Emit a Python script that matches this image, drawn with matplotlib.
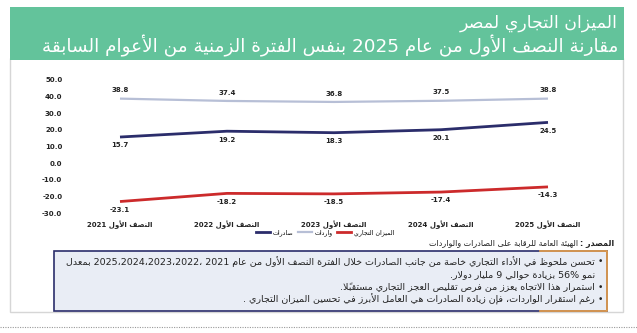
import re
import matplotlib
matplotlib.use("Agg")
import matplotlib.pyplot as plt
from matplotlib.patches import Rectangle
from matplotlib.lines import Line2D

# ---- data ----
years = ["2021", "2022", "2023", "2024", "2025"]
half_label = "النصف الأول"
exports = [15.7, 19.2, 18.3, 20.1, 24.5]
imports = [38.8, 37.4, 36.8, 37.5, 38.8]
balance = [-23.1, -18.2, -18.5, -17.4, -14.3]
series_names = ["صادرات", "واردات", "الميزان التجاري"]
yticks = [50, 40, 30, 20, 10, 0, -10, -20, -30]

title1 = "الميزان التجاري لمصر"
title2 = "مقارنة النصف الأول من عام 2025 بنفس الفترة الزمنية من الأعوام السابقة"
source_lbl = "المصدر :"
source_txt = "الهيئة العامة للرقابة على الصادرات والواردات"
notes = [
    ("•", "تحسن ملحوظ في الأداء التجاري خاصة من جانب الصادرات خلال الفترة النصف الأول من عام 2021 ،2022،2023،2024،2025 بمعدل"),
    ("", "نمو 56% بزيادة حوالي 9 مليار دولار."),
    ("•", "استمرار هذا الاتجاه يعزز من فرص تقليص العجز التجاري مستقبلاً."),
    ("•", "رغم استقرار الواردات، فإن زيادة الصادرات هي العامل الأبرز في تحسين الميزان التجاري ."),
]

# ---- minimal arabic shaping (matplotlib has no complex text layout) ----
FORMS = {
    'ء': (0xFE80,), 'آ': (0xFE81, 0xFE82), 'أ': (0xFE83, 0xFE84), 'ؤ': (0xFE85, 0xFE86),
    'إ': (0xFE87, 0xFE88), 'ئ': (0xFE89, 0xFE8A, 0xFE8B, 0xFE8C), 'ا': (0xFE8D, 0xFE8E),
    'ب': (0xFE8F, 0xFE90, 0xFE91, 0xFE92), 'ة': (0xFE93, 0xFE94),
    'ت': (0xFE95, 0xFE96, 0xFE97, 0xFE98), 'ث': (0xFE99, 0xFE9A, 0xFE9B, 0xFE9C),
    'ج': (0xFE9D, 0xFE9E, 0xFE9F, 0xFEA0), 'ح': (0xFEA1, 0xFEA2, 0xFEA3, 0xFEA4),
    'خ': (0xFEA5, 0xFEA6, 0xFEA7, 0xFEA8), 'د': (0xFEA9, 0xFEAA), 'ذ': (0xFEAB, 0xFEAC),
    'ر': (0xFEAD, 0xFEAE), 'ز': (0xFEAF, 0xFEB0), 'س': (0xFEB1, 0xFEB2, 0xFEB3, 0xFEB4),
    'ش': (0xFEB5, 0xFEB6, 0xFEB7, 0xFEB8), 'ص': (0xFEB9, 0xFEBA, 0xFEBB, 0xFEBC),
    'ض': (0xFEBD, 0xFEBE, 0xFEBF, 0xFEC0), 'ط': (0xFEC1, 0xFEC2, 0xFEC3, 0xFEC4),
    'ظ': (0xFEC5, 0xFEC6, 0xFEC7, 0xFEC8), 'ع': (0xFEC9, 0xFECA, 0xFECB, 0xFECC),
    'غ': (0xFECD, 0xFECE, 0xFECF, 0xFED0), 'ف': (0xFED1, 0xFED2, 0xFED3, 0xFED4),
    'ق': (0xFED5, 0xFED6, 0xFED7, 0xFED8), 'ك': (0xFED9, 0xFEDA, 0xFEDB, 0xFEDC),
    'ل': (0xFEDD, 0xFEDE, 0xFEDF, 0xFEE0), 'م': (0xFEE1, 0xFEE2, 0xFEE3, 0xFEE4),
    'ن': (0xFEE5, 0xFEE6, 0xFEE7, 0xFEE8), 'ه': (0xFEE9, 0xFEEA, 0xFEEB, 0xFEEC),
    'و': (0xFEED, 0xFEEE), 'ى': (0xFEEF, 0xFEF0), 'ي': (0xFEF1, 0xFEF2, 0xFEF3, 0xFEF4),
}
LAM_ALEF = {'ا': (0xFEFB, 0xFEFC), 'أ': (0xFEF7, 0xFEF8), 'إ': (0xFEF9, 0xFEFA), 'آ': (0xFEF5, 0xFEF6)}
MARKS = set(chr(c) for c in range(0x064B, 0x0653))


def dual(ch):
    return ch in FORMS and len(FORMS[ch]) == 4


def shape(word):
    chars = list(word)
    units = []
    i = 0
    while i < len(chars):
        c = chars[i]
        marks = ''
        j = i + 1
        while j < len(chars) and chars[j] in MARKS:
            marks += chars[j]
            j += 1
        if c == 'ل' and j < len(chars) and chars[j] in LAM_ALEF:
            units.append(('LA' + chars[j], marks))
            j += 1
            while j < len(chars) and chars[j] in MARKS:
                units[-1] = (units[-1][0], units[-1][1] + chars[j])
                j += 1
        else:
            units.append((c, marks))
        i = j
    out = []
    for k, (c, marks) in enumerate(units):
        prev = units[k - 1][0] if k > 0 else None
        nxt = units[k + 1][0] if k + 1 < len(units) else None
        join_prev = prev is not None and dual(prev)
        if c.startswith('LA'):
            f = LAM_ALEF[c[2]]
            out.append(chr(f[1] if join_prev else f[0]) + marks)
            continue
        if c not in FORMS:
            out.append(c + marks)
            continue
        f = FORMS[c]
        join_next = nxt is not None and (nxt in FORMS or nxt.startswith('LA')) and len(f) == 4
        if len(f) == 1:
            g = f[0]
        elif join_prev and join_next:
            g = f[3]
        elif join_prev:
            g = f[1]
        elif join_next:
            g = f[2]
        else:
            g = f[0]
        out.append(chr(g) + marks)
    return out


def ar(text):
    # shape, then lay out right-to-left keeping number runs left-to-right
    parts = re.split(r'([0-9]+(?:[.,][0-9]+)*%?)', text)
    visual = []
    for p in parts:
        if not p:
            continue
        if re.fullmatch(r'[0-9]+(?:[.,][0-9]+)*%?', p):
            visual.append(p)
        else:
            visual.append(''.join(reversed(shape(p))))
    return ''.join(reversed(visual))


# ---- colors ----
green = "#63c39b"
navy = "#2b2d6b"
light = "#b7bfd6"
red = "#cc2a2b"
ink = "#222222"

W, H = 637, 333
fig = plt.figure(figsize=(W / 100, H / 100), dpi=100)
renderer = fig.canvas.get_renderer()
bg = fig.add_axes([0, 0, 1, 1])
bg.set_xlim(0, W)
bg.set_ylim(H, 0)
bg.axis("off")


def fit(t, width):
    # scale the font so the text spans the given pixel width
    w = t.get_window_extent(renderer).width
    t.set_fontsize(t.get_fontsize() * width / w)
    return t


# panel + header
bg.add_patch(Rectangle((10, 58), 613, 254, facecolor="white", edgecolor="#d6d6d6", lw=1.0))
bg.add_patch(Rectangle((10, 7), 614, 53, facecolor=green, edgecolor="none"))
fit(bg.text(618, 23, ar(title1), color="white", fontsize=12, ha="right", va="center"), 158)
fit(bg.text(618, 46, ar(title2), color="white", fontsize=12, ha="right", va="center"), 573)

# chart
ax = fig.add_axes([66.5 / W, 1 - 213 / H, 535 / W, 133 / H])
x = list(range(len(years)))
ax.plot(x, imports, color=light, lw=1.6, solid_capstyle="butt")
ax.plot(x, exports, color=navy, lw=2.0, solid_capstyle="butt")
ax.plot(x, balance, color=red, lw=2.0, solid_capstyle="butt")
for vals, off in [(imports, 6), (exports, -6), (balance, -6)]:
    for xi, v in zip(x, vals):
        ax.annotate(f"{v:.1f}", (xi, v), xytext=(0, off), textcoords="offset points",
                    ha="center", va="center", fontsize=5, fontweight="bold", color=ink)
ax.set_xlim(-0.5, 4.5)
ax.set_ylim(-30, 50)
ax.set_yticks(yticks)
ax.set_yticklabels([f"{t:.1f}" for t in yticks], fontsize=5, fontweight="bold", color=ink)
ax.set_xticks(x)
ax.set_xticklabels([ar(half_label + " " + y) for y in years], fontsize=5, fontweight="bold",
                   color=ink)
ax.tick_params(length=0, pad=3)
ax.tick_params(axis="x", pad=5)
for s in ax.spines.values():
    s.set_visible(False)
ax.patch.set_alpha(0)

handles = [Line2D([], [], color=navy, lw=2), Line2D([], [], color=light, lw=1.6),
           Line2D([], [], color=red, lw=2)]
fig.legend(handles, [ar(n) for n in series_names], loc="center", ncol=3,
           bbox_to_anchor=(325 / W, 1 - 233 / H), frameon=False, fontsize=4.5,
           handlelength=2.2, handletextpad=0.4, columnspacing=0.8)

# source: bold label on the right, the body to its left
src_body = fit(bg.text(0, 243, ar(source_txt), fontsize=5.5, ha="right", va="center",
                       color=ink), 150)
src_lbl = bg.text(614, 243, ar(source_lbl), fontsize=src_body.get_fontsize(),
                  fontweight="bold", ha="right", va="center", color=ink)
lbl_w = src_lbl.get_window_extent(renderer).width
src_body.set_x(614 - lbl_w - 2)

# notes box
bg.add_patch(Rectangle((54, 251), 553, 60, facecolor="#e9edf5", edgecolor=navy, lw=1.2))
bg.plot([540, 607, 607, 540], [251, 251, 311, 311], color="#eba24a", lw=1.2)
ys = [262, 274.5, 287, 299.5]
note_texts = []
for (b, t), yy in zip(notes, ys):
    if b:
        bg.text(600, yy, b, fontsize=6.5, ha="center", va="center", color=ink)
    note_texts.append(bg.text(595, yy, ar(t), fontsize=7, ha="right", va="center", color=ink))
fit(note_texts[0], 528)
for t in note_texts[1:]:
    t.set_fontsize(note_texts[0].get_fontsize())

# dotted separator
bg.plot([0, W], [327, 327], color="#999999", lw=0.8, linestyle=(0, (1, 1.2)))

fig.savefig("out.png", dpi=100)
